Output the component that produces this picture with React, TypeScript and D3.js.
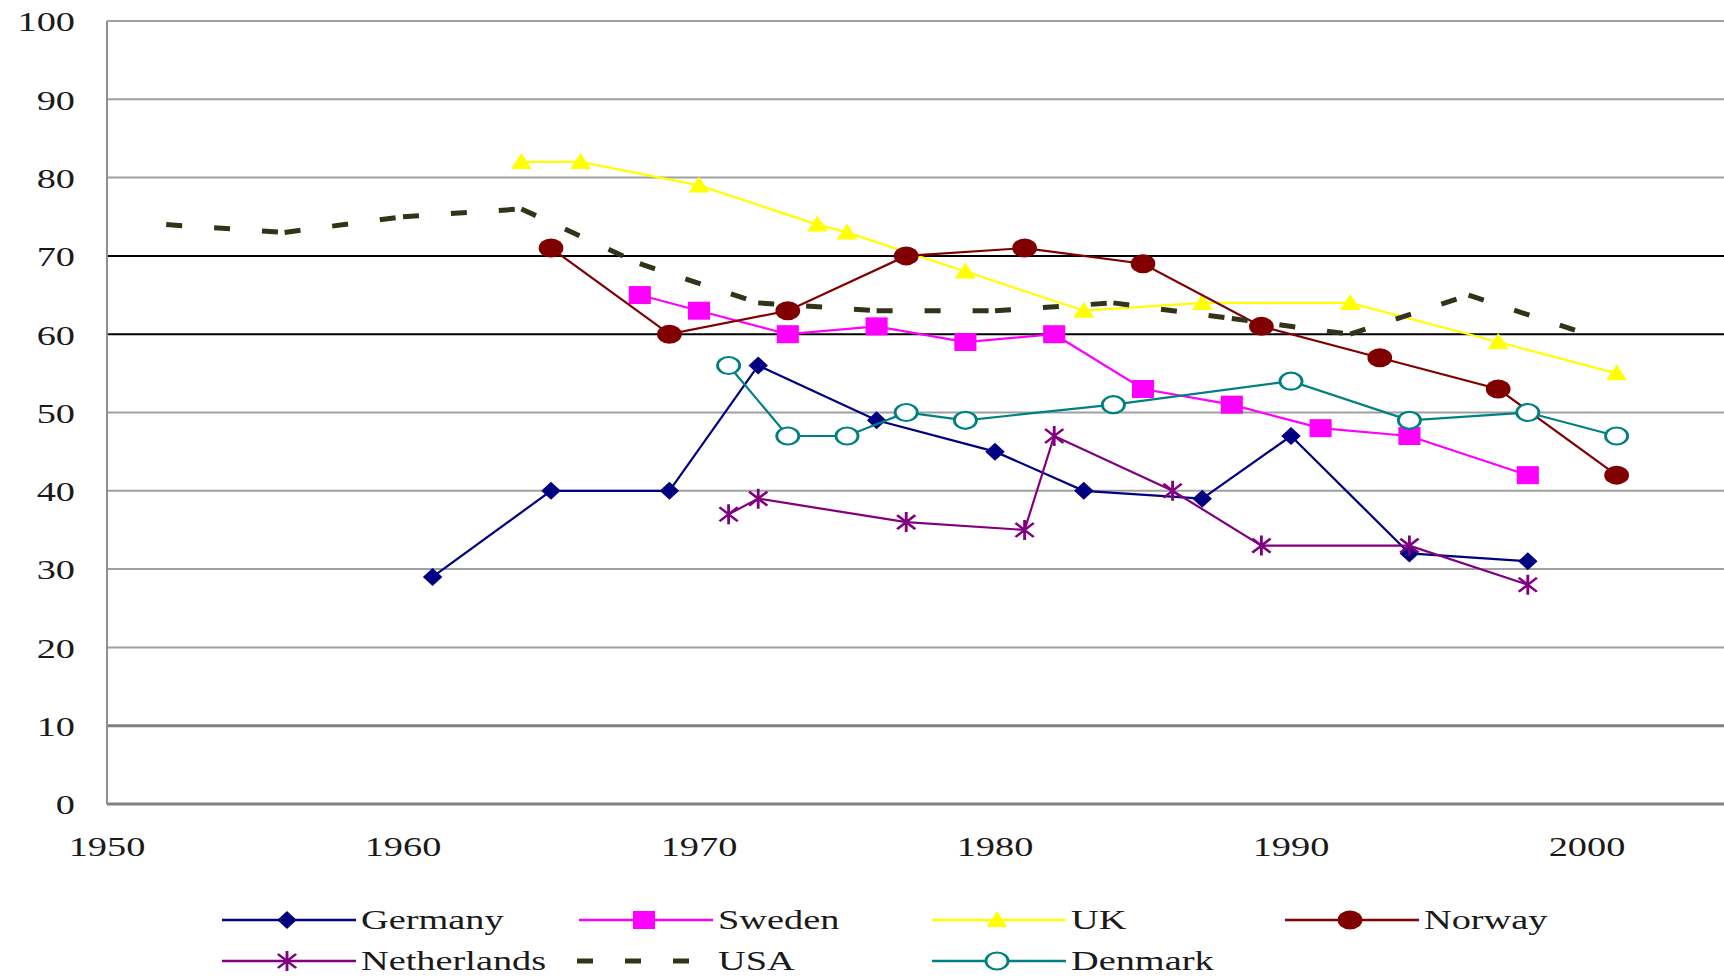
import * as d3 from "d3";

// data
const germanyYears = [1961, 1965, 1969, 1972, 1976, 1980, 1983, 1987, 1990, 1994, 1998];
const germanyValues = [29, 40, 40, 56, 49, 45, 40, 39, 47, 32, 31];

const swedenYears = [1968, 1970, 1973, 1976, 1979, 1982, 1985, 1988, 1991, 1994, 1998];
const swedenValues = [65, 63, 60, 61, 59, 60, 53, 51, 48, 47, 42];

const ukYears = [1964, 1966, 1970, 1974, 1975, 1979, 1983, 1987, 1992, 1997, 2001];
const ukValues = [82, 82, 79, 74, 73, 68, 63, 64, 64, 59, 55];

const norwayYears = [1965, 1969, 1973, 1977, 1981, 1985, 1989, 1993, 1997, 2001];
const norwayValues = [71, 60, 63, 70, 71, 69, 61, 57, 53, 42];

const netherlandsYears = [1971, 1972, 1977, 1981, 1982, 1986, 1989, 1994, 1998];
const netherlandsValues = [37, 39, 36, 35, 47, 40, 33, 33, 28];

const usaYears = [1952, 1956, 1960, 1964, 1968, 1972, 1976, 1980, 1984, 1988, 1992, 1996, 2000];
const usaValues = [74, 73, 75, 76, 69, 64, 63, 63, 64, 62, 60, 65, 60];

const denmarkYears = [1971, 1973, 1975, 1977, 1979, 1984, 1990, 1994, 1998, 2001];
const denmarkValues = [56, 47, 47, 50, 49, 51, 54, 49, 50, 47];

const yTicks = [0, 10, 20, 30, 40, 50, 60, 70, 80, 90, 100];
const xTicks = [1950, 1960, 1970, 1980, 1990, 2000];

type Marker = "diamond" | "square" | "triangle" | "circle" | "star" | "none" | "ring";

interface Series {
  name: string;
  years: number[];
  values: number[];
  color: string;
  marker: Marker;
  dashed?: boolean;
}

const series: Series[] = [
  { name: "Germany", years: germanyYears, values: germanyValues, color: "#000080", marker: "diamond" },
  { name: "Sweden", years: swedenYears, values: swedenValues, color: "#ff00ff", marker: "square" },
  { name: "UK", years: ukYears, values: ukValues, color: "#ffff00", marker: "triangle" },
  { name: "Norway", years: norwayYears, values: norwayValues, color: "#800000", marker: "circle" },
  { name: "Netherlands", years: netherlandsYears, values: netherlandsValues, color: "#800080", marker: "star" },
  { name: "USA", years: usaYears, values: usaValues, color: "#333319", marker: "none", dashed: true },
  { name: "Denmark", years: denmarkYears, values: denmarkValues, color: "#008080", marker: "ring" },
];

const W = 1724;
const H = 979;
const SX = 1.42; // the picture is stretched sideways
const FONT = "'Liberation Serif', 'Times New Roman', serif";

const x = d3.scaleLinear().domain([1950, 2005]).range([107, 1735]);
const y = d3.scaleLinear().domain([0, 100]).range([804, 21]);

function MarkerShape({ kind, color, cx, cy }: { kind: Marker; color: string; cx: number; cy: number }) {
  const t = `translate(${cx},${cy}) scale(1.3,1)`;
  if (kind === "diamond")
    return <path transform={t} d="M0,-9L7.5,0L0,9L-7.5,0Z" fill={color} />;
  if (kind === "square")
    return <rect transform={t} x={-8.5} y={-9} width={17} height={18} fill={color} />;
  if (kind === "triangle")
    return <path transform={t} d="M0,-9L8,7L-8,7Z" fill={color} />;
  if (kind === "circle")
    return <circle transform={t} r={9.5} fill={color} />;
  if (kind === "ring")
    return <circle transform={t} r={8.5} fill="white" stroke={color} strokeWidth={2.2} />;
  if (kind === "star")
    return (
      <path
        transform={t}
        d="M0,-10L0,10M-7,-7L7,7M-7,7L7,-7"
        stroke={color}
        strokeWidth={2.2}
        fill="none"
      />
    );
  return null;
}

function SText({ tx, ty, anchor, children }: { tx: number; ty: number; anchor: string; children: string }) {
  return (
    <g transform={`translate(${tx},${ty}) scale(${SX},1)`}>
      <text
        textAnchor={anchor}
        dominantBaseline="central"
        fontFamily={FONT}
        fontSize={27}
        fill="#1a1a1a"
      >
        {children}
      </text>
    </g>
  );
}

export default function App() {
  const line = d3
    .line<[number, number]>()
    .x((d) => x(d[0]))
    .y((d) => y(d[1]));

  const legendCols = [222, 579, 932, 1285];
  const legendRows = [920, 961];

  return (
    <svg
      width={W}
      height={H}
      style={{ position: "absolute", left: 0, top: 0, display: "block", background: "white" }}
    >
      {/* grid */}
      {yTicks.map((t) => {
        const dark = t === 60 || t === 70;
        const heavy = t === 0 || t === 10;
        return (
          <line
            key={t}
            x1={x(1950)}
            x2={W}
            y1={y(t)}
            y2={y(t)}
            stroke={dark ? "#000" : heavy ? "#808080" : "#a0a0a0"}
            strokeWidth={heavy ? 3 : 2}
          />
        );
      })}
      <line x1={x(1950)} x2={x(1950)} y1={y(100)} y2={y(0)} stroke="#909090" strokeWidth={2} />

      {yTicks.map((t) => (
        <SText key={t} tx={75} ty={y(t) + 1} anchor="end">
          {String(t)}
        </SText>
      ))}
      {xTicks.map((t) => (
        <SText key={t} tx={x(t)} ty={847} anchor="middle">
          {String(t)}
        </SText>
      ))}

      {/* series */}
      {series.map((s) => {
        const pts = s.years.map((yr, i) => [yr, s.values[i]] as [number, number]);
        if (s.dashed) {
          // dash pattern restarts on each segment
          return (
            <g key={s.name}>
              {pts.slice(1).map((p, i) => (
                <line
                  key={i}
                  x1={x(pts[i][0])}
                  y1={y(pts[i][1])}
                  x2={x(p[0])}
                  y2={y(p[1])}
                  stroke={s.color}
                  strokeWidth={5}
                  strokeDasharray="16 32"
                />
              ))}
            </g>
          );
        }
        return (
          <g key={s.name}>
            <path d={line(pts) ?? ""} fill="none" stroke={s.color} strokeWidth={2.2} />
            {pts.map((p, i) => (
              <MarkerShape key={i} kind={s.marker} color={s.color} cx={x(p[0])} cy={y(p[1])} />
            ))}
          </g>
        );
      })}

      {/* legend */}
      {series.map((s, i) => {
        const lx = legendCols[i % 4];
        const ly = legendRows[Math.floor(i / 4)];
        return (
          <g key={s.name}>
            {s.dashed ? (
              <line x1={lx - 2} x2={lx + 115} y1={ly} y2={ly} stroke={s.color} strokeWidth={5} strokeDasharray="16 32" />
            ) : (
              <>
                <line x1={lx} x2={lx + 134} y1={ly} y2={ly} stroke={s.color} strokeWidth={2.5} />
                <MarkerShape kind={s.marker} color={s.color} cx={lx + 65} cy={ly} />
              </>
            )}
            <SText tx={lx + 139} ty={ly} anchor="start">
              {s.name}
            </SText>
          </g>
        );
      })}
    </svg>
  );
}
